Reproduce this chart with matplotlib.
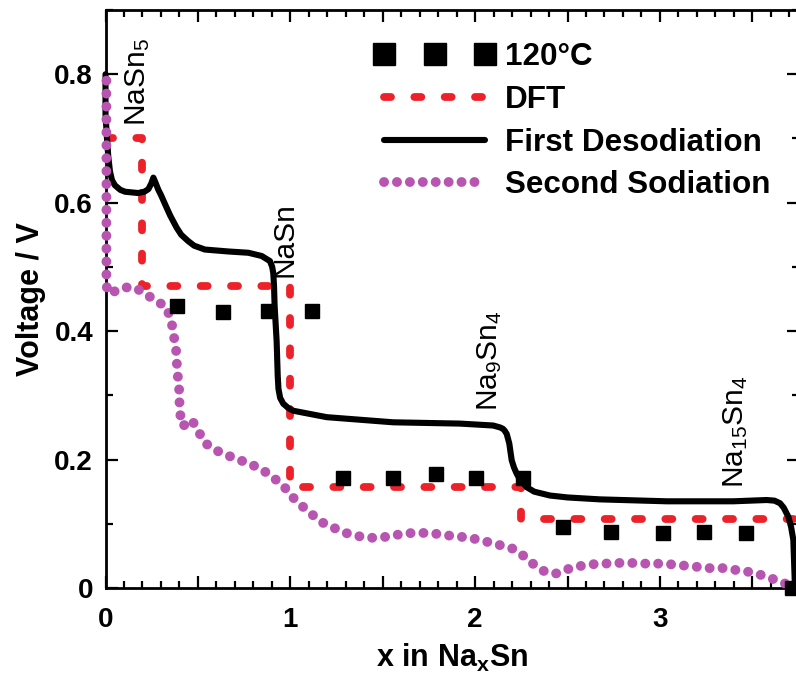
import matplotlib
matplotlib.use("Agg")
import matplotlib.pyplot as plt
from matplotlib.ticker import MultipleLocator, FuncFormatter

plt.rcParams['font.family'] = ['Liberation Sans', 'DejaVu Sans']
plt.rcParams['mathtext.default'] = 'regular'

# Measured 120 °C points
t120_x = [0.387, 0.636, 0.881, 1.116, 1.285, 1.556, 1.788, 2.005, 2.26,
          2.474, 2.735, 3.015, 3.24, 3.466, 3.713]
t120_y = [0.439, 0.430, 0.432, 0.432, 0.171, 0.171, 0.177, 0.171, 0.171,
          0.095, 0.087, 0.086, 0.087, 0.086, 0.0]

# DFT voltage steps between the Na-Sn phases
dft_x = [0.0, 0.2, 0.2, 1.0, 1.0, 2.25, 2.25, 3.75]
dft_y = [0.70, 0.70, 0.47, 0.47, 0.157, 0.157, 0.107, 0.107]

# First desodiation curve
desod_x = [0.0, 0.0, 0.008, 0.015, 0.024, 0.035, 0.051, 0.08, 0.106, 0.177,
           0.21, 0.232, 0.248, 0.259, 0.268, 0.286, 0.30, 0.331, 0.35, 0.385,
           0.41, 0.448, 0.48, 0.538, 0.665, 0.773, 0.845, 0.890, 0.902,
           0.908, 0.912, 0.915, 0.926, 0.932, 0.936, 0.945, 0.962, 0.99,
           1.016, 1.197, 1.557, 1.918, 2.098, 2.135, 2.15, 2.16, 2.171,
           2.185, 2.198, 2.21, 2.225, 2.245, 2.279, 2.32, 2.405, 2.5, 2.676,
           3.037, 3.397, 3.578, 3.62, 3.65, 3.67, 3.695, 3.71, 3.722, 3.731]
desod_y = [0.80, 0.738, 0.700, 0.672, 0.649, 0.635, 0.627, 0.620, 0.617, 0.615,
           0.617, 0.621, 0.630, 0.639, 0.633, 0.620, 0.612, 0.592, 0.580, 0.561,
           0.550, 0.540, 0.533, 0.527, 0.524, 0.522, 0.517, 0.509, 0.500,
           0.490, 0.470, 0.440, 0.385, 0.330, 0.310, 0.296, 0.287, 0.280,
           0.276, 0.266, 0.258, 0.256, 0.253, 0.250, 0.248, 0.245, 0.240,
           0.225, 0.199, 0.188, 0.178, 0.168, 0.157, 0.150, 0.144, 0.141, 0.138,
           0.135, 0.135, 0.137, 0.136, 0.132, 0.125, 0.111, 0.095, 0.075, 0.0]

# Second sodiation curve
sod_x = [0.005, 0.005, 0.02, 0.05, 0.096, 0.16, 0.214, 0.277, 0.331, 0.358,
         0.367, 0.381, 0.385, 0.39, 0.398, 0.40, 0.403, 0.418, 0.466, 0.502,
         0.533, 0.593, 0.656, 0.719, 0.785, 0.849, 0.908, 0.966, 1.007,
         1.058, 1.112, 1.166, 1.233, 1.296, 1.363, 1.428, 1.50, 1.567, 1.61,
         1.70, 1.774, 1.846, 1.918, 1.99, 2.063, 2.131, 2.198, 2.258, 2.312,
         2.366, 2.432, 2.496, 2.564, 2.636, 2.703, 2.775, 2.847, 2.914,
         2.986, 3.055, 3.127, 3.199, 3.267, 3.34, 3.412, 3.484, 3.551,
         3.617, 3.677, 3.722]
sod_y = [0.79, 0.47, 0.458, 0.462, 0.468, 0.468, 0.458, 0.447, 0.437, 0.413,
         0.396, 0.375, 0.354, 0.333, 0.313, 0.292, 0.272, 0.252, 0.262, 0.245,
         0.227, 0.215, 0.207, 0.200, 0.193, 0.184, 0.172, 0.158, 0.143,
         0.129, 0.116, 0.103, 0.094, 0.086, 0.081, 0.078, 0.079, 0.082, 0.085,
         0.086, 0.085, 0.082, 0.080, 0.077, 0.072, 0.067, 0.062, 0.051, 0.038,
         0.027, 0.022, 0.029, 0.034, 0.037, 0.038, 0.039, 0.039, 0.038,
         0.038, 0.037, 0.035, 0.033, 0.031, 0.031, 0.028, 0.025, 0.020,
         0.0135, 0.007, 0.003]

# Phase labels
phase_names = ['NaSn$_5$', 'NaSn', 'Na$_9$Sn$_4$', 'Na$_{15}$Sn$_4$']
phase_x = [0.175, 0.97, 2.08, 3.41]
phase_y = [0.72, 0.484, 0.276, 0.155]

x_tick_labels = {0: '0', 1: '1', 2: '2', 3: '3'}
y_tick_labels = {0: '0', 2: '0.2', 4: '0.4', 6: '0.6', 8: '0.8'}

RED = '#EC2129'
PURPLE = '#B755B0'

fig = plt.figure(figsize=(7.96, 6.75), dpi=100)
ax = fig.add_axes([105.5 / 796, 1 - 588 / 675, 693 / 796, 578 / 675])

ax.plot(dft_x, dft_y, color=RED, lw=5.6, dashes=(0.9, 3.0),
        dash_capstyle='round', label='DFT', zorder=2)
ax.plot(desod_x, desod_y, color='black', lw=4.4, solid_capstyle='round',
        solid_joinstyle='round', label='First Desodiation', zorder=3,
        clip_on=False)
ax.plot(sod_x, sod_y, color=PURPLE, lw=7.1, dashes=(0.01, 1.3),
        dash_capstyle='round', label='Second Sodiation', zorder=4,
        clip_on=False)
ax.plot(t120_x, t120_y, ls='none', marker='s', ms=9.4, color='black',
        label='120°C', zorder=5, clip_on=False)

for name, px, py in zip(phase_names, phase_x, phase_y):
    ax.text(px, py, name, rotation=90, ha='center', va='bottom',
            fontsize=21.5, zorder=6)

ax.set_xlim(0, 3.75)
ax.set_ylim(0, 0.9)

ax.xaxis.set_major_locator(MultipleLocator(0.5))
ax.xaxis.set_minor_locator(MultipleLocator(0.1))
ax.yaxis.set_major_locator(MultipleLocator(0.2))
ax.yaxis.set_minor_locator(MultipleLocator(0.1))
ax.xaxis.set_major_formatter(FuncFormatter(
    lambda v, p: x_tick_labels.get(int(round(v)), '') if abs(v - round(v)) < 1e-6 else ''))
ax.yaxis.set_major_formatter(FuncFormatter(
    lambda v, p: y_tick_labels.get(int(round(v * 10)), '')))

ax.tick_params(which='both', direction='in', top=True, right=True, width=1.6)
ax.tick_params(which='major', length=8.6, labelsize=20)
ax.tick_params(axis='x', which='major', pad=14)
ax.tick_params(axis='y', which='major', pad=9)
ax.tick_params(which='minor', length=5)
for lab in ax.get_xticklabels() + ax.get_yticklabels():
    lab.set_fontweight('bold')
for sp in ax.spines.values():
    sp.set_linewidth(2.0)

ax.set_xlabel('x in Na$_x$Sn', fontsize=22, fontweight='bold', labelpad=6)
ax.set_ylabel('Voltage / V', fontsize=22, fontweight='bold', labelpad=6)

handles, labels = ax.get_legend_handles_labels()
order = [3, 0, 1, 2]
leg = ax.legend([handles[i] for i in order], [labels[i] for i in order],
                loc='upper left', bbox_to_anchor=(0.389, 0.945),
                frameon=False, numpoints=3, markerscale=1.7,
                handlelength=3.8, handletextpad=0.33, labelspacing=0.41,
                borderpad=0, borderaxespad=0,
                prop={'size': 22.6, 'weight': 'bold'})

fig.savefig('out.png', dpi=100)
